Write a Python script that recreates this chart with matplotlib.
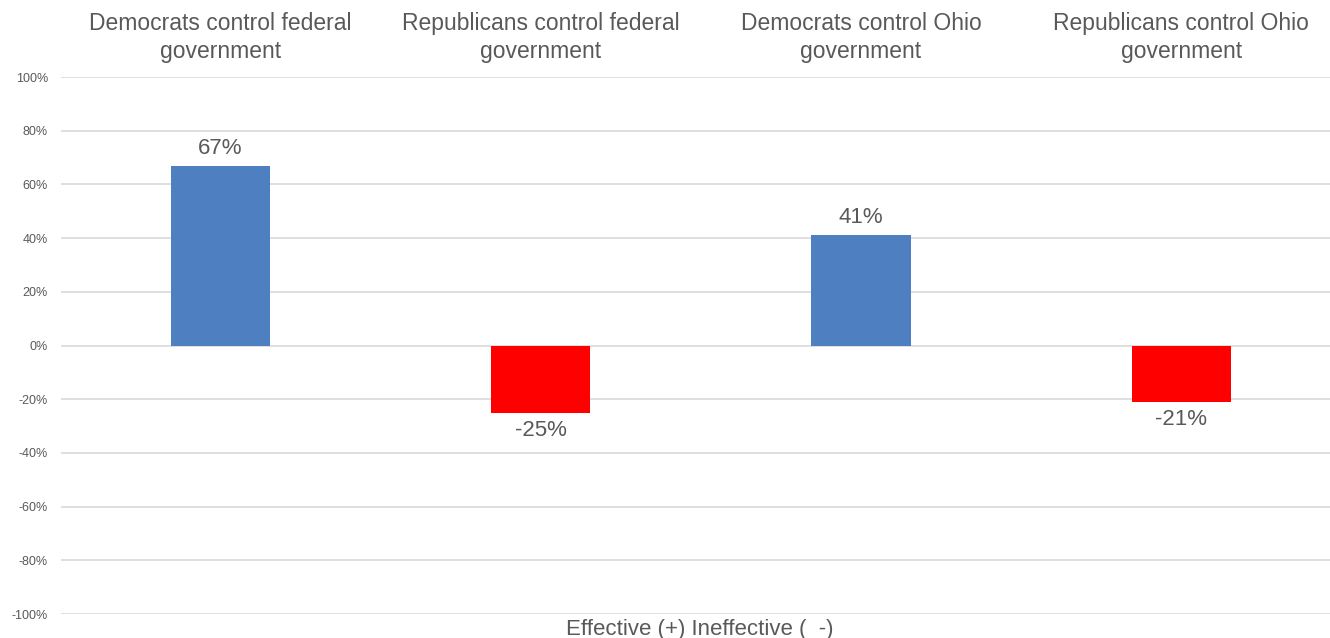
import matplotlib.pyplot as plt
from matplotlib.ticker import FuncFormatter

# chart data
categories = ["Democrats control federal\ngovernment",
              "Republicans control federal\ngovernment",
              "Democrats control Ohio\ngovernment",
              "Republicans control Ohio\ngovernment"]
values = [67, -25, 41, -21]
bar_colors = ["#4e7fc1", "#ff0000", "#4e7fc1", "#ff0000"]
y_ticks = list(range(-100, 101, 20))

plt.rcParams['font.family'] = ['Liberation Sans', 'DejaVu Sans']
text_color = "#595959"

fig = plt.figure(figsize=(13.3, 6.38), dpi=100)
ax = fig.add_axes([0.0455, 0.0376, 0.963, 0.8417])

x = range(len(values))
bars = ax.bar(x, values, width=0.31, color=bar_colors, zorder=3)

ax.bar_label(bars, labels=[f"{v}%" for v in values], padding=5,
             fontsize=16, color=text_color)

ax.set_xlim(-0.5, 3.5)
ax.set_ylim(-100, 100)
ax.set_yticks(y_ticks)
ax.yaxis.set_major_formatter(FuncFormatter(lambda v, _: f"{int(v)}%"))
ax.tick_params(axis='y', length=0, pad=9, labelsize=9, labelcolor=text_color)

# category labels on top
ax.xaxis.tick_top()
ax.set_xticks(list(x))
ax.set_xticklabels(categories, fontsize=16.5, color=text_color, linespacing=1.3)
ax.tick_params(axis='x', length=0, pad=10)

ax.grid(axis='y', color="#d9d9d9", linewidth=1.2, zorder=0)
for s in ax.spines.values():
    s.set_visible(False)

fig.text(0.5263, 0.014, "Effective (+) Ineffective (  -)", ha='center', va='center',
         fontsize=16, color=text_color)

fig.savefig("out.png", dpi=100)
